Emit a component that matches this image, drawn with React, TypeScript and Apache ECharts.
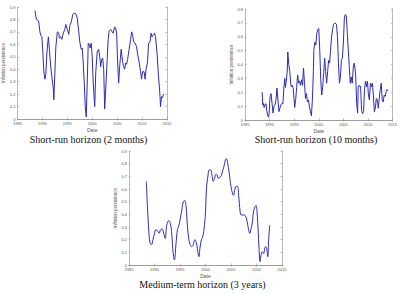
import React, { useEffect, useRef } from "react";
import * as echarts from "echarts";

const xTicks = { min: 1985, max: 2015, interval: 5 };

// Short-run horizon (2 months)
const sr2Dates = [1988.5,1988.8,1989.2,1989.3,1989.5,1989.7,1989.9,1990.1,1990.3,1990.5,1990.7,1990.9,1991.2,1991.4,1991.7,1991.9,1992.2,1992.3,1992.5,1992.7,1993.0,1993.3,1993.4,1993.7,1993.9,1994.2,1994.5,1994.7,1995.0,1995.3,1995.5,1995.8,1996.1,1996.3,1996.7,1997.0,1997.3,1997.5,1997.8,1998.0,1998.2,1998.4,1998.6,1998.8,1999.0,1999.2,1999.4,1999.6,1999.8,2000.0,2000.2,2000.5,2000.7,2001.0,2001.3,2001.5,2001.7,2001.9,2002.1,2002.3,2002.5,2002.7,2003.0,2003.2,2003.4,2003.7,2004.0,2004.2,2004.5,2004.7,2004.9,2005.1,2005.3,2005.5,2005.8,2006.1,2006.3,2006.5,2006.7,2006.9,2007.1,2007.4,2007.7,2007.9,2008.1,2008.3,2008.6,2008.9,2009.1,2009.4,2009.7,2009.9,2010.1,2010.4,2010.6,2010.8,2011.1,2011.3,2011.6,2011.8,2012.0,2012.3,2012.5,2012.7,2013.0,2013.3,2013.5,2013.6,2013.7,2013.9,2014.1,2014.3];
const sr2Values = [0.87,0.80,0.79,0.77,0.70,0.67,0.66,0.53,0.38,0.32,0.36,0.53,0.66,0.56,0.41,0.34,0.24,0.155,0.37,0.58,0.70,0.69,0.65,0.66,0.64,0.69,0.72,0.76,0.72,0.68,0.75,0.78,0.84,0.85,0.845,0.81,0.70,0.62,0.56,0.57,0.45,0.29,0.10,0.016,0.29,0.61,0.60,0.57,0.61,0.50,0.29,0.10,0.37,0.54,0.56,0.50,0.42,0.48,0.49,0.40,0.08,0.24,0.48,0.64,0.71,0.72,0.70,0.69,0.74,0.73,0.69,0.45,0.29,0.42,0.56,0.46,0.42,0.40,0.45,0.44,0.48,0.56,0.64,0.70,0.68,0.62,0.61,0.58,0.52,0.46,0.38,0.32,0.38,0.38,0.32,0.40,0.46,0.61,0.62,0.69,0.66,0.68,0.69,0.66,0.53,0.34,0.24,0.18,0.10,0.18,0.17,0.20];

// Short-run horizon (10 months)
const sr10Dates = [1988.5,1988.6,1988.7,1988.9,1989.1,1989.3,1989.4,1989.6,1989.8,1989.9,1990.1,1990.3,1990.5,1990.7,1990.9,1991.1,1991.3,1991.5,1991.7,1991.9,1992.1,1992.3,1992.5,1992.7,1992.9,1993.1,1993.2,1993.4,1993.6,1993.7,1993.9,1994.1,1994.3,1994.4,1994.6,1994.8,1995.1,1995.3,1995.5,1995.7,1995.9,1996.1,1996.3,1996.5,1996.7,1996.9,1997.1,1997.3,1997.5,1997.7,1997.9,1998.1,1998.3,1998.5,1998.7,1998.9,1999.0,1999.2,1999.4,1999.6,1999.8,2000.0,2000.2,2000.4,2000.6,2000.8,2001.0,2001.2,2001.4,2001.6,2001.8,2002.0,2002.2,2002.4,2002.6,2002.8,2003.0,2003.3,2003.6,2003.8,2004.0,2004.2,2004.4,2004.6,2004.8,2005.0,2005.2,2005.4,2005.6,2005.8,2006.0,2006.2,2006.4,2006.6,2006.8,2007.0,2007.2,2007.4,2007.5,2007.7,2007.9,2008.0,2008.2,2008.4,2008.5,2008.7,2008.9,2009.1,2009.3,2009.5,2009.7,2009.9,2010.1,2010.3,2010.5,2010.7,2010.9,2011.1,2011.3,2011.5,2011.7,2011.9,2012.1,2012.3,2012.5,2012.7,2012.9,2013.1,2013.3,2013.5,2013.7,2013.9,2014.1];
const sr10Values = [0.20,0.11,0.12,0.09,0.115,0.115,0.07,0.035,0.02,0.05,0.17,0.19,0.12,0.05,0.10,0.11,0.145,0.23,0.145,0.06,0.085,0.11,0.12,0.115,0.23,0.30,0.235,0.28,0.36,0.49,0.40,0.35,0.265,0.24,0.25,0.23,0.09,0.145,0.235,0.325,0.265,0.28,0.25,0.29,0.25,0.375,0.265,0.155,0.19,0.13,0.145,0.095,0.06,0.03,0.145,0.35,0.505,0.56,0.54,0.625,0.65,0.66,0.505,0.29,0.18,0.24,0.34,0.445,0.35,0.265,0.35,0.43,0.41,0.505,0.60,0.65,0.69,0.70,0.69,0.60,0.41,0.265,0.31,0.43,0.445,0.555,0.735,0.76,0.75,0.625,0.505,0.385,0.265,0.31,0.265,0.375,0.41,0.36,0.325,0.12,0.05,0.23,0.25,0.24,0.245,0.07,0.045,0.06,0.22,0.28,0.24,0.28,0.18,0.145,0.265,0.24,0.265,0.18,0.06,0.085,0.155,0.145,0.085,0.155,0.22,0.265,0.145,0.13,0.18,0.17,0.205,0.22,0.21];

// Medium-term horizon (3 years)
const mtDates = [1988.4,1988.6,1988.9,1989.1,1989.4,1989.7,1990.0,1990.3,1990.6,1990.9,1991.2,1991.5,1991.8,1992.1,1992.4,1992.8,1993.1,1993.4,1993.6,1993.9,1994.2,1994.5,1994.8,1995.0,1995.3,1995.6,1995.9,1996.2,1996.4,1996.7,1997.0,1997.3,1997.6,1997.9,1998.2,1998.4,1998.7,1998.9,1999.2,1999.4,1999.7,2000.0,2000.2,2000.5,2000.7,2001.0,2001.3,2001.5,2001.8,2002.0,2002.3,2002.5,2002.8,2003.1,2003.3,2003.6,2003.9,2004.1,2004.4,2004.7,2004.9,2005.2,2005.5,2005.7,2006.0,2006.3,2006.5,2006.8,2007.0,2007.4,2007.8,2008.1,2008.4,2008.7,2008.9,2009.2,2009.4,2009.7,2009.9,2010.1,2010.3,2010.5,2010.7,2010.9,2011.1,2011.4,2011.6,2011.8,2012.0,2012.2,2012.4,2012.6];
const mtValues = [0.66,0.47,0.26,0.18,0.16,0.20,0.25,0.28,0.27,0.25,0.28,0.285,0.25,0.21,0.315,0.35,0.33,0.24,0.12,0.04,0.16,0.28,0.315,0.355,0.42,0.49,0.51,0.46,0.34,0.21,0.16,0.145,0.16,0.20,0.18,0.13,0.065,0.13,0.20,0.215,0.28,0.42,0.605,0.71,0.75,0.75,0.70,0.66,0.685,0.715,0.71,0.685,0.69,0.705,0.735,0.775,0.83,0.84,0.79,0.71,0.645,0.58,0.55,0.585,0.62,0.62,0.55,0.42,0.395,0.395,0.39,0.355,0.29,0.25,0.28,0.34,0.42,0.46,0.47,0.42,0.29,0.13,0.026,0.08,0.105,0.09,0.13,0.145,0.13,0.065,0.21,0.315];

const captions = ["Short-run horizon (2 months)", "Short-run horizon (10 months)", "Medium-term horizon (3 years)"];
const yMaxes = [0.9, 0.8, 0.9];

const LINE = "#2d2db8";
const AX = "#8a8a8a";
const LBL = "#555";

export default function App() {
  const ref = useRef<HTMLDivElement>(null);
  useEffect(() => {
    if (!ref.current) return;
    const chart = echarts.init(ref.current, null, { renderer: "svg", width: 400, height: 293 });
    const grids = [
      { left: 17, top: 7, width: 150, height: 112 },
      { left: 245, top: 9, width: 150, height: 111 },
      { left: 129, top: 151, width: 153, height: 114 },
    ];
    const seriesData = [
      sr2Dates.map((d, i) => [d, sr2Values[i]]),
      sr10Dates.map((d, i) => [d, sr10Values[i]]),
      mtDates.map((d, i) => [d, mtValues[i]]),
    ];
    const xAxis: any[] = [];
    const yAxis: any[] = [];
    grids.forEach((_, i) => {
      xAxis.push({
        type: "value", gridIndex: i, ...xTicks, position: "bottom",
        name: "Date", nameLocation: "middle", nameGap: 8,
        nameTextStyle: { fontSize: 5, color: LBL, fontFamily: "Liberation Sans" },
        axisLine: { show: true, lineStyle: { color: AX, width: 0.6 } },
        axisTick: { show: true, inside: true, length: 1.5, lineStyle: { color: AX, width: 0.6 } },
        axisLabel: { fontSize: 4, color: LBL, margin: 2, fontFamily: "Liberation Sans",
          formatter: (v: number) => String(v) },
        splitLine: { show: false },
      });
      xAxis.push({
        type: "value", gridIndex: i, ...xTicks, position: "top",
        axisLine: { show: true, lineStyle: { color: AX, width: 0.6 } },
        axisTick: { show: true, inside: true, length: 1.5, lineStyle: { color: AX, width: 0.6 } },
        axisLabel: { show: false }, splitLine: { show: false },
      });
      yAxis.push({
        type: "value", gridIndex: i, min: 0, max: yMaxes[i], interval: 0.1, position: "left",
        name: "Inflation persistence", nameLocation: "middle", nameGap: 11,
        nameTextStyle: { fontSize: 4.5, color: LBL, fontFamily: "Liberation Sans" },
        axisLine: { show: true, lineStyle: { color: AX, width: 0.6 } },
        axisTick: { show: true, inside: true, length: 1.5, lineStyle: { color: AX, width: 0.6 } },
        axisLabel: { fontSize: 4, color: LBL, margin: 2, fontFamily: "Liberation Sans",
          formatter: (v: number) => (v === 0 ? "0" : v.toFixed(1)) },
        splitLine: { show: false },
      });
      yAxis.push({
        type: "value", gridIndex: i, min: 0, max: yMaxes[i], interval: 0.1, position: "right",
        axisLine: { show: true, lineStyle: { color: AX, width: 0.6 } },
        axisTick: { show: true, inside: true, length: 1.5, lineStyle: { color: AX, width: 0.6 } },
        axisLabel: { show: false }, splitLine: { show: false },
      });
    });
    const series = seriesData.map((data, i) => ({
      type: "line", xAxisIndex: i * 2, yAxisIndex: i * 2, data,
      showSymbol: false, smooth: i === 2 ? 0.4 : false,
      lineStyle: { color: LINE, width: 1 },
    }));
    const capPos = [
      { x: 88.5, y: 139 },
      { x: 316, y: 139 },
      { x: 202.5, y: 284 },
    ];
    chart.setOption({
      animation: false,
      backgroundColor: "#ffffff",
      grid: grids.map((g) => ({ ...g, containLabel: false })),
      xAxis, yAxis, series,
      graphic: captions.map((c, i) => ({
        type: "text", x: capPos[i].x, y: capPos[i].y,
        style: { text: c, fontSize: 10, fontFamily: "Liberation Serif", fill: "#111", align: "center", verticalAlign: "middle" },
      })),
    });
    return () => chart.dispose();
  }, []);
  return <div ref={ref} style={{ width: 400, height: 293, position: "absolute", left: 0, top: 0 }} />;
}
